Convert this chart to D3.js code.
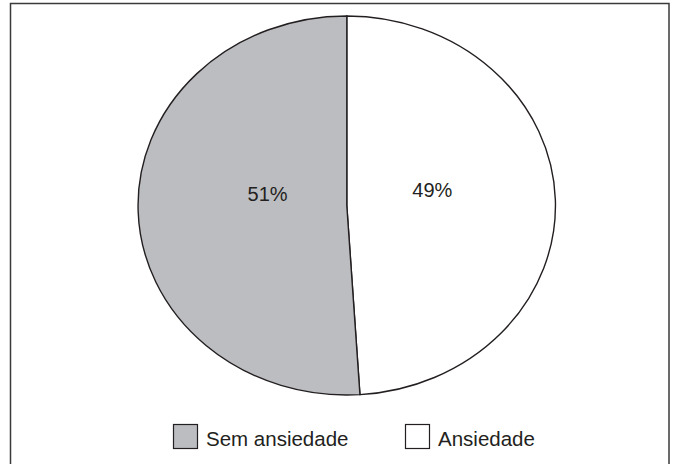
<!DOCTYPE html>
<html>
<head>
<meta charset="utf-8">
<script src="https://cdn.jsdelivr.net/npm/d3@7"></script>
<style>
  html, body { margin: 0; padding: 0; background: #fff; }
  svg { display: block; font-family: "Liberation Sans", Arial, sans-serif; }
</style>
</head>
<body>
<div id="chart"></div>
<script>
const categories = ["Ansiedade", "Sem ansiedade"];
const values = [49, 51];
const labels = ["49%", "51%"];
const colors = ["#ffffff", "#bcbdc1"];

const width = 673;
const height = 464;
const cx = 346.8, cy = 205.5, rx = 208.7, ry = 189.5;

const svg = d3.select("#chart").append("svg")
  .attr("width", width)
  .attr("height", height);

svg.append("rect")
  .attr("x", 10.5)
  .attr("y", 3.5)
  .attr("width", 658.5)
  .attr("height", 480)
  .attr("fill", "#fff")
  .attr("stroke", "#3a3a3a")
  .attr("stroke-width", 1.5);

const pie = d3.pie().sort(null).value((d) => d);
const arcs = pie(values);
const arc = d3.arc().innerRadius(0).outerRadius(1);

const g = svg.append("g")
  .attr("transform", `translate(${cx},${cy}) scale(${rx},${ry})`);

g.selectAll("path")
  .data(arcs)
  .join("path")
  .attr("d", arc)
  .attr("fill", (d, i) => colors[i])
  .attr("stroke", "#231f20")
  .attr("stroke-width", 1.4)
  .attr("vector-effect", "non-scaling-stroke");

// percentage labels
arcs.forEach((d, i) => {
  const mid = (d.startAngle + d.endAngle) / 2;
  const f = i === 0 ? 0.41 : 0.38;
  svg.append("text")
    .attr("x", cx + Math.sin(mid) * rx * f)
    .attr("y", cy - Math.cos(mid) * ry * f - 6.5)
    .attr("text-anchor", "middle")
    .attr("font-size", 20)
    .attr("fill", "#231f20")
    .text(labels[i]);
});

// legend
const legendItems = [
  { name: categories[1], color: colors[1], x: 173 },
  { name: categories[0], color: colors[0], x: 405 }
];
legendItems.forEach((item) => {
  svg.append("rect")
    .attr("x", item.x + 0.5)
    .attr("y", 424.5)
    .attr("width", 24)
    .attr("height", 24)
    .attr("fill", item.color)
    .attr("stroke", "#231f20")
    .attr("stroke-width", 1.2);
  svg.append("text")
    .attr("x", item.x + 33)
    .attr("y", 446)
    .attr("font-size", 20.5)
    .attr("fill", "#231f20")
    .text(item.name);
});
</script>
</body>
</html>
